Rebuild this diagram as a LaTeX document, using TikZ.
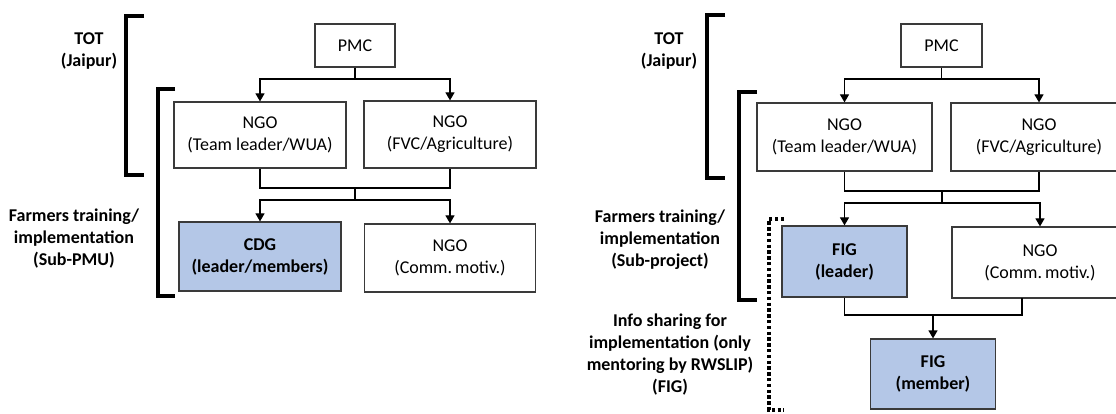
\documentclass[tikz,border=0pt]{standalone}
\usepackage{fontspec}
\setmainfont{Carlito}
\usetikzlibrary{arrows.meta}
\definecolor{boxblue}{HTML}{B4C7E7}
\definecolor{edgegray}{HTML}{3A3A3A}
\tikzset{
  orgbox/.style={draw=edgegray, line width=1.2pt, inner sep=0pt, align=center,
    font=\fontsize{18}{22}\selectfont},
  hibox/.style={orgbox, fill=boxblue, font=\fontsize{18}{22}\selectfont\bfseries},
  link/.style={draw=black, line width=1.2pt},
  arr/.style={link, -{Triangle[width=9pt,length=8pt]}},
  brk/.style={draw=black, line width=3.4pt},
  dotbrk/.style={draw=black, line width=3.4pt, dash pattern=on 3.4pt off 2.4pt},
  lbl/.style={align=center, font=\fontsize{18}{22}\selectfont\bfseries, inner sep=0pt}
}
\begin{document}
\begin{tikzpicture}[x=1pt, y=-1pt]
\useasboundingbox (0,0) rectangle (1116,414);

% ---------- left chart ----------
\node[orgbox, minimum width=80pt, minimum height=43pt] (pmcL) at (355,45.5) {PMC};
\node[orgbox, minimum width=172pt, minimum height=66pt] (ngoTL) at (260,135) {NGO\\(Team leader/WUA)};
\node[orgbox, minimum width=172pt, minimum height=67pt] (ngoFL) at (450,134.5) {NGO\\(FVC/Agriculture)};
\node[hibox, minimum width=162pt, minimum height=69pt] (cdg) at (260,256.5) {CDG\\(leader/members)};
\node[orgbox, minimum width=171pt, minimum height=68pt] (ngoCL) at (450,258) {NGO\\(Comm.\,motiv.)};

\coordinate (sL) at (355,79);
\coordinate (mL) at (355,188);
\draw[link] (pmcL.south) -- (sL);
\draw[arr] (sL) -| (ngoTL.north);
\draw[arr] (sL) -| (ngoFL.north);
\draw[link] (ngoTL.south) |- (mL) -| (ngoFL.south);
\draw[link] (mL) -- ++(0,12) coordinate (tL);
\draw[arr] (tL) -| (cdg.north);
\draw[arr] (tL) -| (ngoCL.north);

% brackets and labels
\draw[brk] (144,16) -- (126,16) -- (126,175) -- (144,175);
\draw[brk] (175,89) -- (158,89) -- (158,296) -- (175,296);
\node[lbl] (totL) at (89,51) {TOT\\(Jaipur)};
\node[lbl] (farmL) at (74,239) {Farmers training/\\implementation\\(Sub-PMU)};

% ---------- right chart ----------
\node[orgbox, minimum width=81pt, minimum height=43pt] (pmcR) at (941.5,45.5) {PMC};
\node[orgbox, minimum width=175pt, minimum height=68pt] (ngoTR) at (844.5,137) {NGO\\(Team leader/WUA)};
\node[orgbox, minimum width=176pt, minimum height=68pt] (ngoFR) at (1039,137) {NGO\\(FVC/Agriculture)};
\node[hibox, minimum width=125pt, minimum height=71pt] (figL) at (844.5,261.5) {FIG\\(leader)};
\node[orgbox, minimum width=176pt, minimum height=71pt] (ngoCR) at (1040,262.5) {NGO\\(Comm.\,motiv.)};
\node[hibox, minimum width=125pt, minimum height=70pt] (figM) at (933,374) {FIG\\(member)};

\coordinate (sR) at (941.5,79);
\coordinate (mR) at (942,191);
\draw[link] (pmcR.south) -- (sR);
\draw[arr] (sR) -| (ngoTR.north);
\draw[arr] (sR) -| (ngoFR.north);
\draw[link] (ngoTR.south) |- (mR) -| (ngoFR.south);
\draw[link] (mR) -- ++(0,12) coordinate (tR);
\draw[arr] (tR) -| (figL.north);
\draw[arr] (tR) -| (ngoCR.north);

\coordinate (bR) at (933,315);
\coordinate (cR) at (1022,298);
\draw[link] (figL.south) |- (bR) -| (cR);
\draw[arr] (bR) -- (figM.north);

% brackets and labels
\draw[brk] (725,15) -- (707,15) -- (707,178) -- (725,178);
\draw[brk] (757,92) -- (739,92) -- (739,300) -- (757,300);
\draw[dotbrk] (784,219) -- (769,219) -- (769,410) -- (784,410);
\node[lbl] (totR) at (669,51) {TOT\\(Jaipur)};
\node[lbl] (farmR) at (660,240) {Farmers training/\\implementation\\(Sub-project)};
\node[lbl] (infoR) at (670,355) {Info sharing for\\implementation (only\\mentoring by RWSLIP)\\(FIG)};
\end{tikzpicture}
\end{document}
